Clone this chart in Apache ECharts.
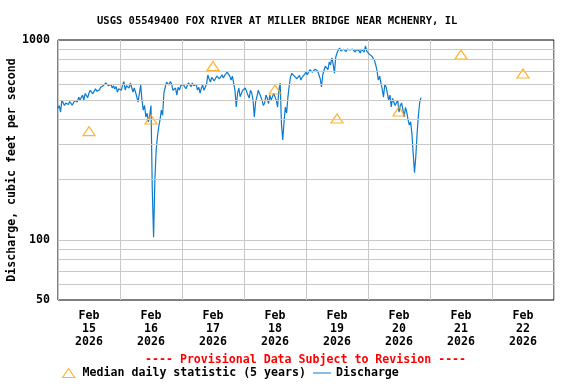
<!DOCTYPE html>
<html>
<head>
<meta charset="utf-8">
<script src="https://cdn.jsdelivr.net/npm/echarts@6/dist/echarts.min.js"></script>
<style>html,body{margin:0;padding:0;background:#fff}#c{width:576px;height:384px}</style>
</head>
<body>
<div id="c"></div>
<script>
// Day categories (label at noon of each day)
var dayLabels = ['Feb\n15\n2026','Feb\n16\n2026','Feb\n17\n2026','Feb\n18\n2026','Feb\n19\n2026','Feb\n20\n2026','Feb\n21\n2026','Feb\n22\n2026'];
// Median daily statistic (5 years), one per day, at noon
var medianValues = [350, 400, 741, 565, 405, 439, 846, 680];
// Discharge, every 30 minutes from Feb 15 00:00
var stepHours = 0.5;
var discharge = [
 455,470,436,500,489,470,484,495,475,492,489,472,480,498,505,490,518,500,515,530,500,540,530,515,
 543,560,562,538,549,570,555,545,562,580,575,590,582,610,602,590,582,600,575,590,568,585,549,570,
 582,560,595,620,562,590,602,575,609,580,549,575,549,520,489,540,595,500,446,470,412,430,389,420,
 470,178,103,200,282,330,368,400,446,420,543,580,616,630,595,620,602,560,549,575,530,580,562,590,
 582,600,595,570,575,610,602,585,609,590,582,600,562,580,543,575,595,560,549,600,668,640,616,650,
 645,625,630,660,668,640,652,670,645,665,660,690,683,660,630,660,645,560,462,540,575,520,518,560,
 550,575,562,530,512,560,543,500,412,490,520,560,549,520,500,470,484,530,512,480,530,500,489,540,
 549,500,462,560,609,380,316,390,462,430,518,590,652,680,691,660,652,640,645,665,630,650,652,675,
 691,670,683,710,708,690,683,715,724,700,691,640,582,670,708,740,733,710,776,750,813,760,683,820,
 861,890,912,880,861,900,891,875,900,915,891,905,900,880,871,895,900,885,861,900,891,870,933,880,
 861,850,841,830,813,790,750,700,630,660,609,570,518,600,582,540,500,530,462,510,500,470,462,500,
 436,470,484,450,412,460,436,400,375,390,340,270,217,260,340,420,484,515
];
// y-axis gridline values
var gridValues = [60,70,80,90,100,200,300,400,500,600,700,800,900];
var yMin = 50, yMax = 1000, totalHours = 192;

var FONT = 'DejaVu Sans Mono';
var TXT = {fontFamily:FONT,fontWeight:'bold',fontSize:11.6,color:'#000'};
var chart = echarts.init(document.getElementById('c'), null, {renderer:'canvas'});
var dischargeData = discharge.map(function(v,i){return [i*stepHours, v];});

chart.setOption({
  animation:false,
  backgroundColor:'#fff',
  title:[
    {text:'USGS 05549400 FOX RIVER AT MILLER BRIDGE NEAR MCHENRY, IL', left:92, top:11,
     textStyle:{fontFamily:FONT,fontWeight:'bold',fontSize:10.5,color:'#000'}},
    {text:'---- Provisional Data Subject to Revision ----', left:140, top:349,
     textStyle:{fontFamily:FONT,fontWeight:'bold',fontSize:11.6,color:'#ff0000'}}
  ],
  grid:{left:58, right:22, top:40, bottom:84, show:true, borderColor:'#000', borderWidth:1,
        backgroundColor:'transparent', outerBoundsMode:'none', containLabel:false},
  legend:[
    {left:57, top:362, itemWidth:12, itemHeight:9, textStyle:Object.assign({padding:[0,0,0,3]},TXT),
     data:[{name:'Median daily statistic (5 years)', icon:'triangle',
            itemStyle:{color:'transparent',borderColor:'#ffa000',borderWidth:1.2}}]},
    {left:308, top:362, itemWidth:18, itemHeight:9, textStyle:TXT,
     data:[{name:'Discharge', icon:'path://M0,4.5L18,4.5L18,5.5L0,5.5Z', itemStyle:{color:'#0a7bd0'}}]}
  ],
  xAxis:[
    {type:'value', min:0, max:totalHours, show:false},
    {type:'category', data:dayLabels, boundaryGap:true, position:'bottom',
     axisLine:{show:false}, axisTick:{show:false},
     splitLine:{show:true, lineStyle:{color:'#c8c8c8',width:1}},
     axisLabel:{fontFamily:FONT,fontWeight:'bold',fontSize:11.6,color:'#000',lineHeight:13,margin:9}}
  ],
  yAxis:{
    type:'log', logBase:10, min:yMin, max:yMax,
    axisLine:{show:false}, axisTick:{show:false}, splitLine:{show:false},
    axisLabel:{fontFamily:FONT,fontWeight:'bold',fontSize:11.6,color:'#000',margin:8,
               formatter:function(v){return String(Math.round(v));}},
    name:'Discharge, cubic feet per second', nameLocation:'middle', nameGap:40, nameMoveOverlap:false,
    nameTextStyle:{fontFamily:FONT,fontWeight:'bold',fontSize:11.6,color:'#000'}
  },
  series:[
    {type:'line', name:'grid', xAxisIndex:0, data:[], z:1, silent:true,
     markLine:{silent:true, symbol:['none','none'], label:{show:false}, animation:false,
       lineStyle:{color:'#c8c8c8',type:'solid',width:1},
       data:gridValues.map(function(v){return {yAxis:v};})}},
    {type:'line', name:'Discharge', xAxisIndex:0, data:dischargeData, symbol:'none', z:3,
     lineStyle:{color:'#0a7bd0',width:1.2}, itemStyle:{color:'#0a7bd0'}},
    {type:'scatter', name:'Median daily statistic (5 years)', xAxisIndex:1, data:medianValues,
     symbol:'triangle', symbolSize:[12,9], z:4,
     itemStyle:{color:'transparent',borderColor:'#ffa000',borderWidth:1.2}}
  ]
});
</script>
</body>
</html>
